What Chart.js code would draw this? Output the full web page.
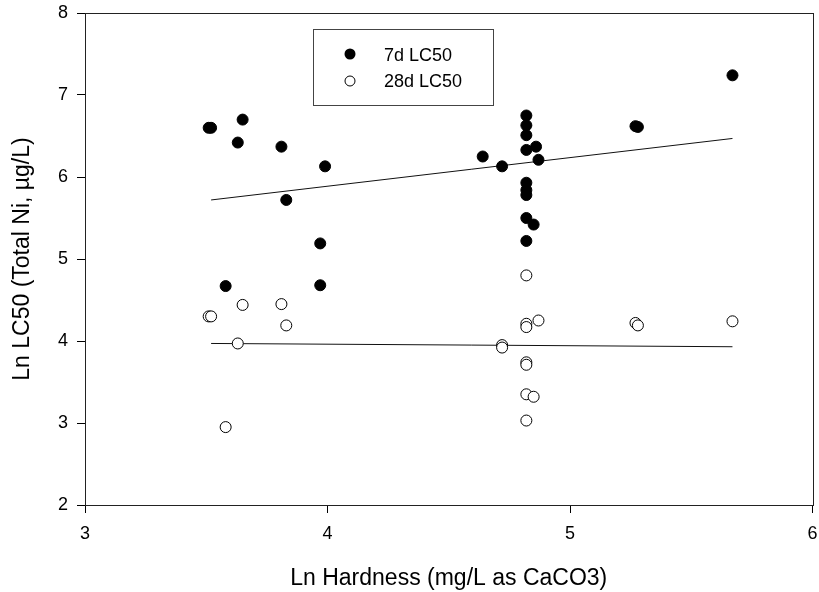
<!DOCTYPE html>
<html>
<head>
<meta charset="utf-8">
<script src="https://cdn.jsdelivr.net/npm/chart.js@4/dist/chart.umd.min.js"></script>
<style>
  html, body { margin: 0; padding: 0; background: #fff; }
  #wrap { width: 819px; height: 592px; }
</style>
</head>
<body>
<div id="wrap"><canvas id="lcChart" width="819" height="592"></canvas></div>
<script>
// Ln hardness and Ln LC50
const hardness7d = [3.51, 3.52, 3.58, 3.63, 3.65, 3.81, 3.83, 3.97, 3.97, 3.99,
    4.64, 4.72, 4.82, 4.82, 4.82, 4.82, 4.86, 4.87, 4.82, 4.82, 4.82, 4.82, 4.85, 4.82,
    5.27, 5.28, 5.67];
const lc50_7d = [6.60, 6.60, 4.67, 6.42, 6.70, 6.37, 5.72, 5.19, 4.68, 6.13,
    6.25, 6.13, 6.75, 6.63, 6.51, 6.33, 6.37, 6.21, 5.93, 5.84, 5.78, 5.50, 5.42, 5.22,
    6.62, 6.61, 7.24];

const hardness28d = [3.51, 3.52, 3.58, 3.63, 3.65, 3.81, 3.83, 4.72, 4.72,
    4.82, 4.82, 4.82, 4.87, 4.82, 4.82, 4.82, 4.85, 4.82, 5.27, 5.28, 5.67];
const lc50_28d = [4.30, 4.30, 2.95, 3.97, 4.44, 4.45, 4.19, 3.95, 3.92,
    4.80, 4.21, 4.17, 4.25, 3.74, 3.71, 3.35, 3.32, 3.03, 4.22, 4.19, 4.24];

// regression lines (end points)
const fitX = [3.52, 5.67];
const fit7d = [5.72, 6.47];
const fit28d = [3.97, 3.93];

const xTicks = [3, 4, 5, 6];
const yTicks = [2, 3, 4, 5, 6, 7, 8];

const legendLabels = ['7d LC50', '28d LC50'];

const FONT = '"Liberation Sans", Arial, Helvetica, sans-serif';

function toPoints(xs, ys) {
    return xs.map((x, i) => ({ x: x, y: ys[i] }));
}

// frame around the plot area + in-plot legend box
const frameAndLegend = {
    id: 'frameAndLegend',
    afterDraw(chart) {
        const c = chart.ctx;
        const a = chart.chartArea;
        c.save();
        c.strokeStyle = '#222';
        c.lineWidth = 1;
        c.strokeRect(Math.round(a.left) + 0.5, Math.round(a.top) + 0.5,
            Math.round(a.right - a.left), Math.round(a.bottom - a.top));

        // legend
        c.strokeStyle = '#444';
        c.strokeRect(313.5, 29.5, 180, 76);
        c.font = '18px ' + FONT;
        c.fillStyle = '#000';
        c.textBaseline = 'middle';
        c.textAlign = 'left';
        c.beginPath();
        c.arc(350, 54, 5.5, 0, Math.PI * 2);
        c.fill();
        c.fillText(legendLabels[0], 384, 56);
        c.beginPath();
        c.arc(350, 81, 5, 0, Math.PI * 2);
        c.fillStyle = '#fff';
        c.fill();
        c.strokeStyle = '#000';
        c.stroke();
        c.fillStyle = '#000';
        c.fillText(legendLabels[1], 384, 82);
        c.restore();
    }
};

const ctx = document.getElementById('lcChart').getContext('2d');

new Chart(ctx, {
    type: 'scatter',
    data: {
        datasets: [
            {
                label: legendLabels[0],
                data: toPoints(hardness7d, lc50_7d),
                backgroundColor: '#000',
                borderColor: '#000',
                borderWidth: 1,
                pointRadius: 5.5
            },
            {
                label: legendLabels[1],
                data: toPoints(hardness28d, lc50_28d),
                backgroundColor: '#fff',
                borderColor: '#000',
                borderWidth: 1,
                pointRadius: 5.5
            },
            {
                label: 'fit 7d',
                data: toPoints(fitX, fit7d),
                showLine: true,
                borderColor: '#111',
                borderWidth: 1,
                pointRadius: 0
            },
            {
                label: 'fit 28d',
                data: toPoints(fitX, fit28d),
                showLine: true,
                borderColor: '#111',
                borderWidth: 1,
                pointRadius: 0
            }
        ]
    },
    options: {
        responsive: false,
        animation: false,
        layout: { padding: { left: 0, top: 13, right: 6, bottom: 0 } },
        plugins: {
            legend: { display: false },
            tooltip: { enabled: false }
        },
        scales: {
            x: {
                type: 'linear',
                min: 3,
                max: 6,
                afterFit: function (scale) {
                    scale.height = 87;
                    scale.paddingLeft = 0;
                    scale.paddingRight = 0;
                },
                afterBuildTicks: function (scale) {
                    scale.ticks = xTicks.map(v => ({ value: v }));
                },
                grid: {
                    drawOnChartArea: false,
                    tickLength: 8,
                    color: '#000'
                },
                border: { color: '#000', width: 1 },
                ticks: {
                    color: '#000',
                    font: { family: FONT, size: 18 },
                    padding: 10,
                    maxRotation: 0
                },
                title: {
                    display: true,
                    text: 'Ln Hardness (mg/L as CaCO3)',
                    color: '#000',
                    font: { family: FONT, size: 23 },
                    padding: { top: 0, bottom: 0 }
                }
            },
            y: {
                type: 'linear',
                min: 2,
                max: 8,
                afterFit: function (scale) {
                    scale.width = 85;
                    scale.paddingTop = 0;
                    scale.paddingBottom = 0;
                },
                afterBuildTicks: function (scale) {
                    scale.ticks = yTicks.map(v => ({ value: v }));
                },
                grid: {
                    drawOnChartArea: false,
                    tickLength: 8,
                    color: '#000'
                },
                border: { color: '#000', width: 1 },
                ticks: {
                    color: '#000',
                    font: { family: FONT, size: 18 },
                    padding: 9
                },
                title: {
                    display: true,
                    text: 'Ln LC50 (Total Ni, µg/L)',
                    color: '#000',
                    font: { family: FONT, size: 23 },
                    padding: { top: 9, bottom: 0 }
                }
            }
        }
    },
    plugins: [frameAndLegend]
});
</script>
</body>
</html>
